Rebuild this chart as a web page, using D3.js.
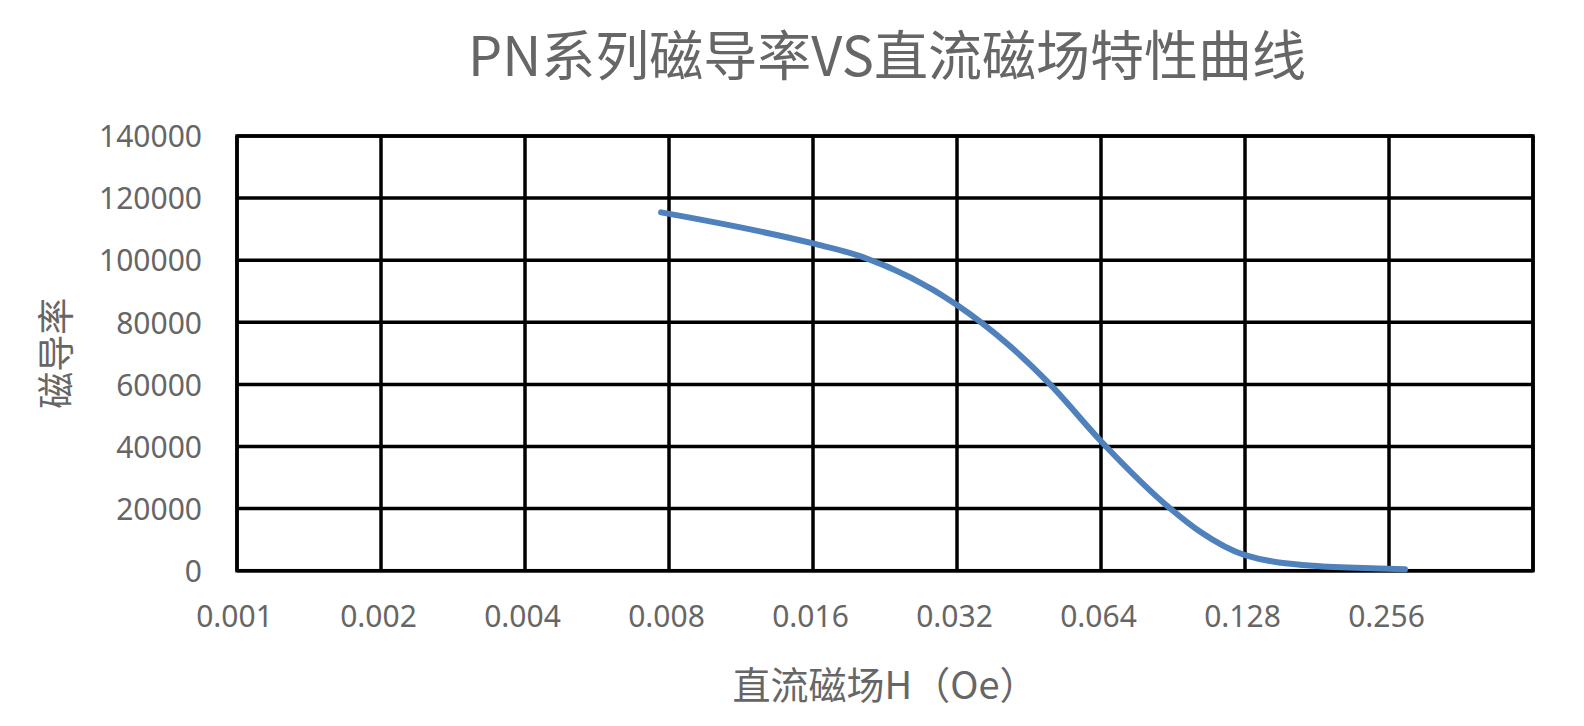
<!DOCTYPE html>
<html>
<head>
<meta charset="utf-8">
<script src="https://cdn.jsdelivr.net/npm/d3@7"></script>
<style>
html,body{margin:0;padding:0;background:#fff;}
svg{display:block;}
</style>
</head>
<body>
<svg id="chart" width="1584" height="726"></svg>
<script>
// ---- data ----
const hValues  = [0.0077, 0.016, 0.020, 0.032, 0.0407, 0.0501, 0.064, 0.0892, 0.103, 0.128, 0.1775, 0.256, 0.2765];
const muValues = [115400, 105400, 101400, 85600, 73200, 60000, 41700, 20100, 12600, 5000, 1600, 650, 450];
const xTickValues = [0.001, 0.002, 0.004, 0.008, 0.016, 0.032, 0.064, 0.128, 0.256];
const xTickLabels = ["0.001", "0.002", "0.004", "0.008", "0.016", "0.032", "0.064", "0.128", "0.256"];
const yTickValues = [0, 20000, 40000, 60000, 80000, 100000, 120000, 140000];
const titleText = "PN系列磁导率VS直流磁场特性曲线";
const xTitleText = "直流磁场H（Oe）";
const yTitleText = "磁导率";

const svg = d3.select("#chart");
const pL = 237, pR = 1533, pT = 136, pB = 570.7;
const x = d3.scaleLog().base(2).domain([0.001, 0.512]).range([pL, pR]);
const y = d3.scaleLinear().domain([0, 140000]).range([pB, pT]);

const textColor = "#666666";
const cjk = "'Noto Sans CJK SC', 'Noto Sans', sans-serif";
const latin = "'Noto Sans', 'Open Sans', sans-serif";

// grid
const grid = svg.append("g");
grid.selectAll("line.v").data(xTickValues.concat([0.512])).enter().append("line")
  .attr("x1", d => x(d)).attr("x2", d => x(d)).attr("y1", pT).attr("y2", pB)
  .attr("stroke", "#000").attr("stroke-width", 3.5);
grid.selectAll("line.h").data(yTickValues).enter().append("line")
  .attr("x1", pL).attr("x2", pR).attr("y1", d => y(d)).attr("y2", d => y(d))
  .attr("stroke", "#000").attr("stroke-width", 3.5);
grid.append("rect").attr("x", pL).attr("y", pT).attr("width", pR - pL).attr("height", pB - pT)
  .attr("fill", "none").attr("stroke", "#000").attr("stroke-width", 3.5);

// axes (labels only)
const xAxis = d3.axisBottom(x).tickValues(xTickValues).tickFormat((d, i) => xTickLabels[i]).tickSize(0).tickPadding(0);
const gx = svg.append("g").attr("transform", `translate(-3,${pB})`).call(xAxis);
gx.select(".domain").remove();
gx.selectAll("text").attr("y", 56).attr("dy", null).attr("fill", textColor)
  .style("font-family", latin).style("font-size", "30px");

const yAxis = d3.axisLeft(y).tickValues(yTickValues).tickFormat(d3.format("d")).tickSize(0).tickPadding(0);
const gy = svg.append("g").attr("transform", `translate(202,0)`).call(yAxis);
gy.select(".domain").remove();
gy.selectAll("text").attr("x", 0).attr("dy", "0.357em").attr("fill", textColor)
  .style("font-family", latin).style("font-size", "30px");

// curve
const pts = hValues.map((h, i) => [h, muValues[i]]);
const line = d3.line().x(d => x(d[0])).y(d => y(d[1])).curve(d3.curveMonotoneX);
svg.append("path").attr("d", line(pts)).attr("fill", "none")
  .attr("stroke", "#4f81bd").attr("stroke-width", 6).attr("stroke-linecap", "round").attr("stroke-linejoin", "round");

// titles
svg.append("text").attr("x", 887).attr("y", 76).attr("text-anchor", "middle")
  .attr("fill", textColor).style("font-family", cjk).style("font-size", "54px").text(titleText);
svg.append("text").attr("x", (pL + pR) / 2).attr("y", 699).attr("text-anchor", "middle")
  .attr("fill", textColor).style("font-family", cjk).style("font-size", "38px").text(xTitleText);
svg.append("text").attr("transform", `translate(70,${(pT + pB) / 2}) rotate(-90)`).attr("text-anchor", "middle")
  .attr("fill", textColor).style("font-family", cjk).style("font-size", "37px").text(yTitleText);
</script>
</body>
</html>
